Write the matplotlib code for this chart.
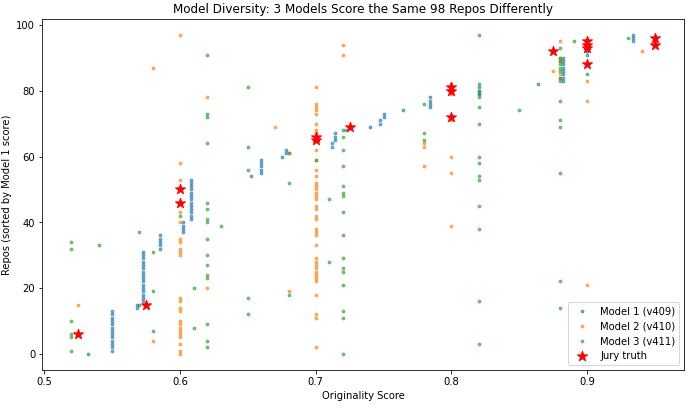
import matplotlib
matplotlib.use("Agg")
import matplotlib.pyplot as plt

# repo index 0..97, sorted by model 1 score
model1 = [
    0.532, 0.55, 0.55, 0.55, 0.55, 0.55, 0.55, 0.55, 0.55, 0.55,
    0.55, 0.55, 0.55, 0.55, 0.568, 0.568, 0.573, 0.573, 0.573, 0.573,
    0.573, 0.573, 0.573, 0.573, 0.573, 0.573, 0.573, 0.573, 0.573, 0.573,
    0.573, 0.573, 0.585, 0.585, 0.585, 0.585, 0.585, 0.602, 0.602, 0.602,
    0.602, 0.608, 0.608, 0.608, 0.608, 0.608, 0.608, 0.608, 0.608, 0.608,
    0.608, 0.608, 0.608, 0.608, 0.652, 0.66, 0.66, 0.66, 0.66, 0.66,
    0.675, 0.678, 0.678, 0.712, 0.712, 0.714, 0.714, 0.714, 0.722, 0.74,
    0.747, 0.747, 0.75, 0.75, 0.764, 0.784, 0.784, 0.784, 0.784, 0.82,
    0.82, 0.82, 0.864, 0.882, 0.882, 0.882, 0.882, 0.882, 0.882, 0.882,
    0.882, 0.9, 0.9, 0.9, 0.9, 0.934, 0.934, 0.934,
]
model2 = [
    0.6, 0.6, 0.7, 0.6, 0.58, 0.6, 0.6, 0.6, 0.6, 0.6,
    0.6, 0.7, 0.7, 0.6, 0.6, 0.525, 0.6, 0.6, 0.7, 0.68,
    0.62, 0.9, 0.7, 0.7, 0.7, 0.7, 0.7, 0.7, 0.7, 0.7,
    0.6, 0.6, 0.6, 0.7, 0.6, 0.6, 0.7, 0.7, 0.7, 0.8,
    0.6, 0.7, 0.7, 0.6, 0.7, 0.7, 0.6, 0.7, 0.7, 0.7,
    0.7, 0.7, 0.7, 0.6, 0.7, 0.8, 0.7, 0.78, 0.6, 0.7,
    0.8, 0.68, 0.7, 0.78, 0.78, 0.7, 0.7, 0.7, 0.7, 0.67,
    0.7, 0.8, 0.8, 0.7, 0.7, 0.7, 0.7, 0.9, 0.62, 0.8,
    0.8, 0.7, 0.8, 0.9, 0.88, 0.88, 0.875, 0.58, 0.9, 0.88,
    0.88, 0.72, 0.94, 0.9, 0.72, 0.88, 0.95, 0.6,
]
model3 = [
    0.72, 0.52, 0.62, 0.82, 0.62, 0.52, 0.52, 0.58, 0.61, 0.62,
    0.52, 0.72, 0.65, 0.72, 0.88, 0.57, 0.82, 0.65, 0.68, 0.58,
    0.61, 0.72, 0.88, 0.62, 0.62, 0.72, 0.72, 0.62, 0.71, 0.72,
    0.62, 0.58, 0.52, 0.54, 0.52, 0.62, 0.72, 0.57, 0.82, 0.63,
    0.62, 0.62, 0.6, 0.72, 0.62, 0.82, 0.62, 0.71, 0.72, 0.72,
    0.6, 0.72, 0.68, 0.82, 0.82, 0.88, 0.65, 0.72, 0.82, 0.7,
    0.82, 0.68, 0.72, 0.65, 0.62, 0.78, 0.72, 0.78, 0.72, 0.88,
    0.82, 0.88, 0.62, 0.62, 0.85, 0.82, 0.78, 0.88, 0.82, 0.82,
    0.82, 0.65, 0.82, 0.88, 0.88, 0.9, 0.88, 0.88, 0.88, 0.88,
    0.88, 0.62, 0.9, 0.88, 0.9, 0.89, 0.93, 0.82,
]

# jury scores for the repos that have one
jury_idx = [6, 15, 46, 50, 65, 66, 69, 72, 80, 81, 88, 92, 93, 94, 95, 94, 96]
jury_score = [0.525, 0.575, 0.6, 0.6, 0.7, 0.7, 0.725, 0.8, 0.8, 0.8,
              0.9, 0.875, 0.9, 0.9, 0.9, 0.95, 0.95]

labels = ["Model 1 (v409)", "Model 2 (v410)", "Model 3 (v411)"]

repos = list(range(len(model1)))

fig, ax = plt.subplots(figsize=(9.6, 5.7), dpi=72)
fig.subplots_adjust(left=0.061, right=0.990, bottom=0.098, top=0.953)

for scores, lab in zip([model1, model2, model3], labels):
    ax.scatter(scores, repos, s=8, alpha=0.6, label=lab)
ax.scatter(jury_score, jury_idx, marker="*", s=110, color="red", label="Jury truth", zorder=5)

ax.set_xlabel("Originality Score")
ax.set_ylabel("Repos (sorted by Model 1 score)")
ax.set_title("Model Diversity: 3 Models Score the Same 98 Repos Differently")
ax.legend(loc="lower right")

plt.savefig("out.png", dpi=72)
